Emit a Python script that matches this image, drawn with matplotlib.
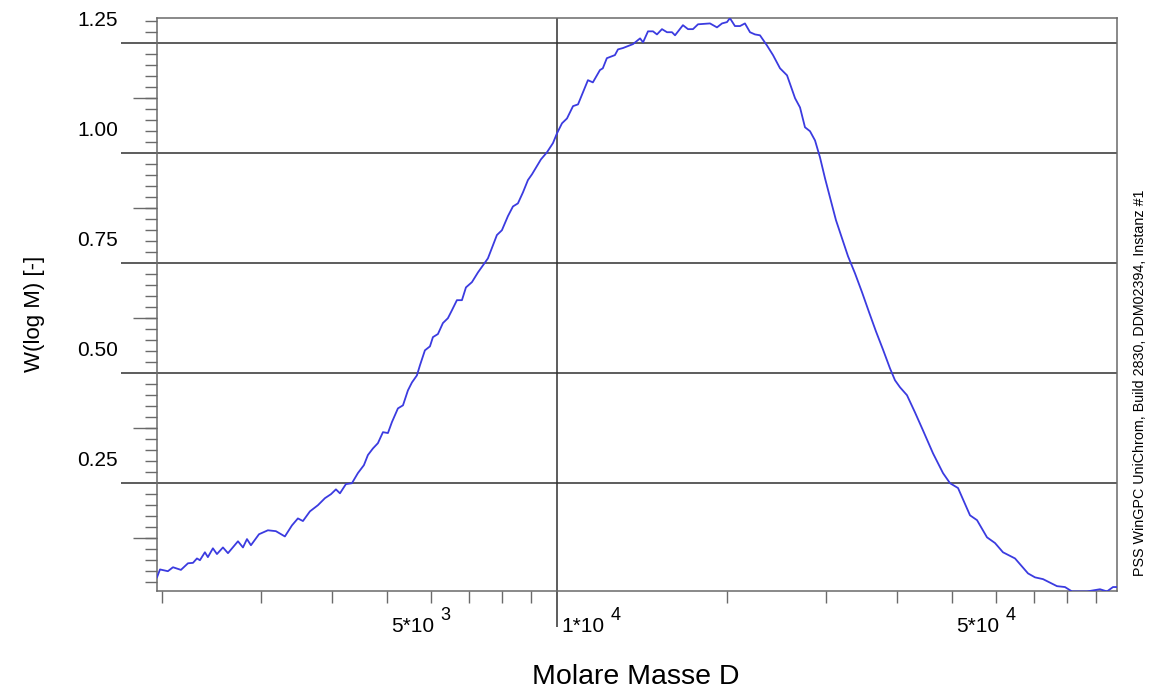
import matplotlib
matplotlib.use("Agg")
import matplotlib.pyplot as plt
from matplotlib.ticker import FixedLocator, MultipleLocator, NullFormatter
from matplotlib.transforms import ScaledTranslation

# Molar mass distribution
molar_mass = [
    1962, 1986, 2051, 2094, 2163, 2226, 2272, 2309, 2337, 2385,
    2414, 2464, 2505, 2567, 2620, 2729, 2785, 2831, 2877, 2973,
    3083, 3185, 3304, 3400, 3484, 3556, 3659, 3780, 3890, 3986,
    4068, 4135, 4237, 4342, 4449, 4559, 4634, 4730, 4827, 4927,
    5028, 5111, 5237, 5346, 5455, 5545, 5658, 5729, 5846, 5967,
    6040, 6164, 6291, 6420, 6526, 6660, 6798, 6910, 7081, 7256,
    7406, 7557, 7714, 7839, 8001, 8199, 8369, 8540, 8717, 8896,
    9043, 9228, 9380, 9612, 9851, 10012, 10220, 10430, 10690, 10910,
    11360, 11590, 11930, 12070, 12270, 12680, 12840, 13100, 13650, 14050,
    14220, 14510, 14810, 15050, 15360, 15680, 16000, 16200, 16730, 17080,
    17430, 17790, 18680, 19220, 19620, 20020, 20260, 20680, 21110, 21540,
    21990, 22440, 22900, 23560, 24150, 24850, 25570, 26420, 26960, 27510,
    28080, 28660, 29240, 29850, 30460, 31210, 31990, 32780, 33730, 34710,
    35710, 36740, 37800, 38900, 39700, 40520, 41690, 43070, 44500, 46350,
    48280, 49680, 51330, 53900, 55460, 57760, 59680, 61650, 64750, 68270,
    70250, 72570, 76830, 79360, 81660, 86810, 91540, 94190, 96520, 98110,
]
w_log_m = [
    0.035, 0.053, 0.049, 0.058, 0.052, 0.067, 0.068, 0.078, 0.074, 0.092,
    0.081, 0.101, 0.088, 0.103, 0.090, 0.117, 0.103, 0.122, 0.108, 0.133,
    0.142, 0.140, 0.128, 0.153, 0.169, 0.163, 0.185, 0.199, 0.215, 0.224,
    0.235, 0.226, 0.247, 0.249, 0.272, 0.290, 0.313, 0.328, 0.340, 0.365,
    0.363, 0.388, 0.419, 0.426, 0.460, 0.478, 0.494, 0.517, 0.551, 0.560,
    0.581, 0.588, 0.613, 0.624, 0.642, 0.665, 0.665, 0.694, 0.706, 0.728,
    0.744, 0.760, 0.790, 0.813, 0.824, 0.856, 0.878, 0.885, 0.910, 0.938,
    0.951, 0.970, 0.985, 1.001, 1.022, 1.044, 1.067, 1.078, 1.106, 1.110,
    1.165, 1.160, 1.188, 1.192, 1.215, 1.222, 1.235, 1.238, 1.247, 1.260,
    1.251, 1.276, 1.276, 1.269, 1.281, 1.274, 1.274, 1.267, 1.290, 1.281,
    1.281, 1.292, 1.294, 1.285, 1.294, 1.297, 1.306, 1.288, 1.288, 1.294,
    1.274, 1.269, 1.267, 1.244, 1.222, 1.192, 1.176, 1.124, 1.103, 1.058,
    1.049, 1.028, 0.990, 0.942, 0.899, 0.847, 0.806, 0.765, 0.726, 0.683,
    0.638, 0.594, 0.553, 0.510, 0.483, 0.467, 0.449, 0.410, 0.369, 0.317,
    0.272, 0.249, 0.238, 0.176, 0.165, 0.126, 0.113, 0.092, 0.078, 0.044,
    0.035, 0.031, 0.015, 0.013, 0.003, 0.003, 0.008, 0.003, 0.013, 0.013,
]

y_major = [0.25, 0.50, 0.75, 1.00, 1.25]
y_labels = ["0.25", "0.50", "0.75", "1.00", "1.25"]
y_mid = [0.125, 0.375, 0.625, 0.875, 1.125]
x_minor = [2e3, 3e3, 4e3, 5e3, 6e3, 7e3, 8e3, 9e3,
           2e4, 3e4, 4e4, 5e4, 6e4, 7e4, 8e4, 9e4]
x_label_pos = [5e3, 1e4, 5e4]
x_label_base = ["5*10", "1*10", "5*10"]
x_label_exp = ["3", "4", "4"]

plt.rcParams["font.family"] = ["Liberation Sans", "DejaVu Sans"]

AXIS_GREY = "#6a6a6a"
GRID = "#303030"
PX = 0.72  # points per pixel at dpi 100


def main():
    fig = plt.figure(figsize=(11.55, 6.97), dpi=100)
    ax = fig.add_axes([157 / 1155, 1 - 591 / 697, 960 / 1155, 573.3 / 697])

    ax.plot(molar_mass, w_log_m, color="#3b3be0", linewidth=1.3, zorder=3)

    ax.set_xscale("log")
    ax.set_xlim(1962, 98110)
    ax.set_ylim(0.004, 1.307)

    # x axis: one long tick + grid line at 1e4, short ticks elsewhere
    ax.xaxis.set_major_locator(FixedLocator([1e4]))
    ax.xaxis.set_minor_locator(FixedLocator(x_minor))
    ax.xaxis.set_major_formatter(NullFormatter())
    ax.xaxis.set_minor_formatter(NullFormatter())
    ax.tick_params(axis="x", which="major", length=36 * PX, width=1.1, color=GRID)
    ax.tick_params(axis="x", which="minor", length=12 * PX, width=1.0, color=AXIS_GREY)

    # y axis: long ticks at grid lines, mid ticks, minor ticks every 0.025
    ax.yaxis.set_major_locator(FixedLocator(y_major))
    ax.yaxis.set_minor_locator(MultipleLocator(0.025))
    ax.tick_params(axis="y", which="major", length=36 * PX, width=1.1, color=GRID, labelleft=False)
    ax.tick_params(axis="y", which="minor", length=12 * PX, width=1.0, color=AXIS_GREY)
    sec = ax.secondary_yaxis("left")
    sec.set_yticks(y_mid)
    sec.tick_params(length=24 * PX, width=1.0, color=AXIS_GREY, labelleft=False)
    sec.spines["left"].set_visible(False)

    ax.grid(True, which="major", color=GRID, linewidth=1.1)
    for s in ax.spines.values():
        s.set_color(AXIS_GREY)
        s.set_linewidth(1.1)

    # y tick labels sit above their grid lines in the original printout
    up = ScaledTranslation(0, 22.5 / 100, fig.dpi_scale_trans)
    for y, lab in zip(y_major, y_labels):
        ax.text(-39 / 960, y, lab, transform=ax.get_yaxis_transform() + up,
                ha="right", va="center", fontsize=15)

    # x tick labels as "5*10" with a raised exponent
    down = ScaledTranslation(5 / 100, -36 / 100, fig.dpi_scale_trans)
    for x, base, exp in zip(x_label_pos, x_label_base, x_label_exp):
        t = ax.text(x, 0, base, transform=ax.get_xaxis_transform() + down,
                    ha="left", va="center", fontsize=15)
        ax.annotate(exp, xy=(1, 0.5), xycoords=t, xytext=(6 * PX, 11 * PX),
                    textcoords="offset points", ha="left", va="center", fontsize=13)

    ax.set_xlabel("Molare Masse D", fontsize=20.5, va="center")
    ax.xaxis.set_label_coords(0.499, -0.150)
    ax.set_ylabel("W(log M) [-]", fontsize=16, va="center")
    ax.yaxis.set_label_coords(-0.128, 0.484)

    fig.text(1140 / 1155, 1 - 383 / 697,
             "PSS WinGPC UniChrom, Build 2830, DDM02394, Instanz #1",
             rotation=90, ha="center", va="center", fontsize=10.3)

    fig.savefig("out.png", dpi=100)
    plt.close(fig)


if __name__ == "__main__":
    main()
